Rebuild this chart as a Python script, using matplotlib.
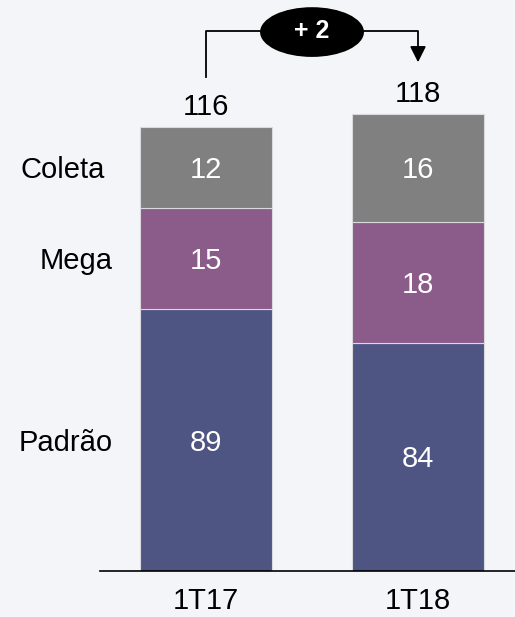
import matplotlib
matplotlib.use("Agg")
import matplotlib.pyplot as plt
from matplotlib.patches import Ellipse

plt.rcParams["font.family"] = ["Liberation Sans", "DejaVu Sans"]

# data
periods = ["1T17", "1T18"]
segments = ["Padrão", "Mega", "Coleta"]
padrao = [89, 84]
mega = [15, 18]
coleta = [12, 16]
delta_label = "+ 2"

colors = ["#4E5583", "#8B5B8A", "#808080"]
BG = "#F4F5F8"
Y0 = 50          # the original chart's value axis starts at 50
FS = 21

fig = plt.figure(figsize=(5.15, 6.17), dpi=100, facecolor=BG)
ax = fig.add_axes([0, 46 / 617, 1, 571 / 617])
ax.set_facecolor(BG)
ax.set_xlim(-0.9717, 1.4575)
ax.set_ylim(Y0, Y0 + 571 / 6.72)
ax.set_axis_off()

x = list(range(len(periods)))
width = 0.623
series = [padrao, mega, coleta]
bottoms = [0, 0]
for vals, col in zip(series, colors):
    ax.bar(x, vals, width, bottom=bottoms, color=col, edgecolor="#D9D9DE", linewidth=0.8, zorder=2)
    for xi, b, v in zip(x, bottoms, vals):
        mid = (max(b, Y0) + b + v) / 2
        ax.text(xi, mid - 0.4, str(v), color="white", fontsize=FS, ha="center", va="center", zorder=3)
    bottoms = [b + v for b, v in zip(bottoms, vals)]
totals = bottoms

# segment names beside the first bar
name_x = [-0.44, -0.44, -0.476]
b = 0
for name, vals, nx in zip(segments, series, name_x):
    mid = (max(b, Y0) + b + vals[0]) / 2
    ax.text(nx, mid - 0.4, name, fontsize=FS, ha="right", va="center", color="black")
    b += vals[0]

# totals above the bars
for xi, t in zip(x, totals):
    ax.text(xi, t + 3.0, str(t), fontsize=FS, ha="center", va="center", color="black")

# baseline
ax.plot([-0.5, 1.4575], [Y0, Y0], color="black", lw=1.2, clip_on=False, zorder=3)

# period labels
for xi, p in zip(x, periods):
    ax.text(xi, Y0 - 4.5, p, fontsize=FS, ha="center", va="center", color="black", clip_on=False)

# growth bracket
top = 130.4
ax.plot([x[0], x[0], x[1], x[1]], [totals[0] + 7.5, top, top, top - 2.2],
        color="black", lw=1.3, zorder=3)
ax.annotate("", xy=(x[1], totals[1] + 7.7), xytext=(x[1], top - 2.3),
            arrowprops=dict(arrowstyle="-|>", color="black", lw=1.3,
                            mutation_scale=24, shrinkA=0, shrinkB=0))
ax.add_patch(Ellipse((0.5, 130.2), 0.49, 7.4, facecolor="black", edgecolor="none", zorder=4))
ax.text(0.5, 130.4, delta_label, color="white", fontsize=18, fontweight="bold",
        ha="center", va="center", zorder=5)

fig.savefig("out.png", dpi=100, facecolor=BG)
